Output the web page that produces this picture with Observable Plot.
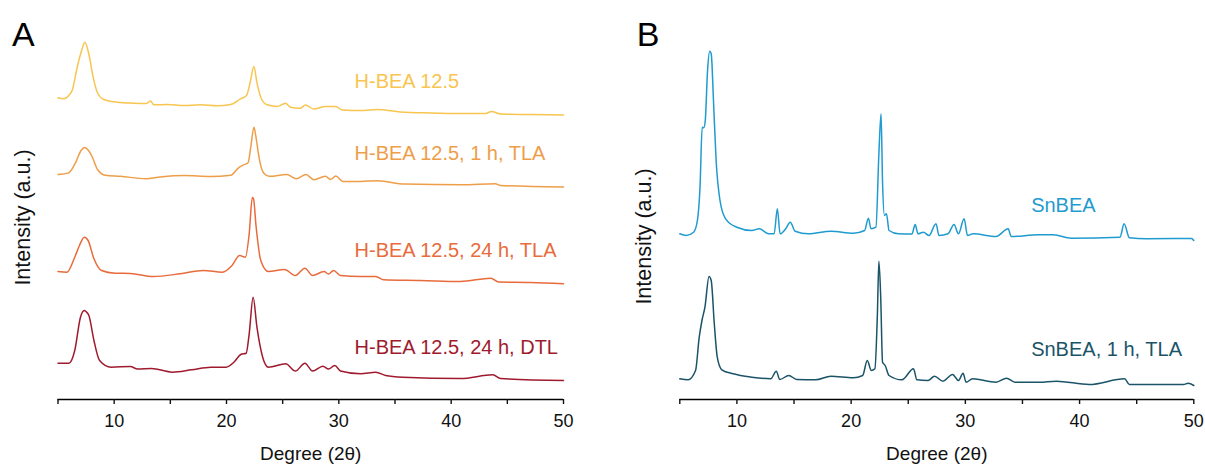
<!DOCTYPE html>
<html>
<head>
<meta charset="utf-8">
<script src="https://cdn.jsdelivr.net/npm/d3@7"></script>
<script src="https://cdn.jsdelivr.net/npm/@observablehq/plot@0.6"></script>
<style>
  html, body { margin: 0; padding: 0; background: #fff; }
  #wrap { display: flex; width: 1205px; height: 466px; }
  #wrap svg { display: block; }
</style>
</head>
<body>
<div id="wrap"><div id="panelA"></div><div id="panelB"></div></div>
<script>
// ---------- DATA (2θ in degrees, intensity in a.u. incl. stacking offset) ----------
const hbea = [[5.0,301.7],[5.52,300.7],[5.96,304],[6.26,309],[6.71,332.3],[7.15,350.7],[7.39,357.3],[7.74,345.7],[8.13,322.3],[8.49,307.3],[9.08,300],[10.27,297.3],[11.75,296.3],[12.88,296],[13.23,298.5],[13.53,294.7],[14.72,295],[16.2,294],[17.69,294.7],[19.17,293.7],[20.36,295],[21.25,300.7],[21.78,304],[22.14,319],[22.43,333],[22.73,315.7],[23.18,299],[23.62,294.7],[24.51,293],[25.25,296.3],[25.7,292.3],[26.59,291.3],[27.03,294.5],[27.75,290.5],[28.81,293],[29.7,293],[30.33,289.5],[31.93,289],[33.44,290],[35.49,287.5],[38.16,286.5],[40.83,286],[43.06,286],[43.59,288],[44.39,285.5],[47.06,285],[50,284.5]];

const hbea1hTLA = [[5.0,224.9],[5.94,226.6],[6.63,238.4],[7.0,248],[7.39,252],[7.72,249],[8.01,243.5],[8.52,230],[9.21,224.2],[10.56,223.2],[12.82,220.8],[14.12,222.5],[16.25,223.9],[18.58,223],[20.38,224.2],[21.07,231.7],[21.48,234.4],[21.92,236.7],[22.18,254],[22.44,272.2],[22.67,259],[22.85,245.2],[23.3,226.6],[23.82,223.2],[25.36,224.9],[26.22,220.8],[27.08,224.9],[27.77,219.8],[28.8,223.2],[29.26,220],[29.73,223.5],[30.35,218.1],[31.93,218],[33.44,218.8],[35.85,215.4],[41,214.7],[43.92,215.8],[44.39,214],[50,212.5]];

const hbea24hTLA = [[5.0,128],[5.8,127.3],[6.49,142.3],[6.91,154],[7.34,162.3],[7.68,159],[8.2,140.7],[8.87,129],[10.07,126.3],[11.45,126],[13.48,123],[15.88,125.7],[17.93,129],[19.64,127.3],[20.49,134],[21.17,144],[21.68,142.3],[22.02,165.7],[22.3,202],[22.4,201],[22.64,172.3],[23.05,139],[23.73,128],[25.16,130],[26.13,124],[26.98,131.3],[27.66,124],[28.68,128],[29.08,125.5],[29.53,129],[30.15,124],[31.93,123],[33.29,123],[33.98,119.7],[37.27,119],[40.81,118],[43.54,121.3],[44.22,117.5],[47.06,117],[50,115.7]];

const hbea24hDTL = [[5.0,36.3],[5.97,36.3],[6.49,49],[7.0,82.3],[7.34,89],[7.49,88],[7.75,84],[8.2,59],[8.7,39],[9.73,32.3],[11.44,33],[12.08,30.5],[13.32,31],[15.19,27.3],[16.9,29.7],[18.61,32.3],[19.97,32.3],[20.66,37.3],[21.27,45],[21.75,46.3],[22.02,65.7],[22.37,102.3],[22.71,72.3],[23.22,42.3],[23.73,32.3],[25.27,35.7],[26.14,28.5],[26.98,36.3],[27.66,28.5],[28.58,33.3],[29.08,30.5],[29.64,34],[30.15,28.5],[31.93,25.7],[33.29,27.3],[34.16,24],[35.69,22.3],[40.83,21],[43.71,24.7],[44.39,21],[50,19]];

const snbea = [[5.0,165.7],[5.55,164],[6.21,167.3],[6.54,179],[6.77,212.3],[6.96,272.3],[7.1,271.7],[7.23,279],[7.43,329],[7.62,348.3],[7.75,345.7],[7.96,295.7],[8.18,239],[8.52,199],[9.01,180.7],[9.99,172.3],[11.31,169],[11.96,170.7],[12.79,165.7],[13.26,165.7],[13.54,190.7],[13.78,165.7],[14.27,170.7],[14.67,177.3],[15.1,168.3],[16.25,165.7],[18.22,168.3],[20.19,166.3],[21.18,169],[21.51,181.3],[21.74,170.7],[22.17,172.3],[22.43,245.7],[22.62,285.7],[22.75,217.3],[22.92,184],[23.09,185.7],[23.32,169],[24.14,165.7],[25.32,165.5],[25.61,175],[25.85,165.7],[26.33,167.3],[26.82,164],[27.43,175.7],[27.69,164],[28.48,165.7],[29.01,175],[29.4,165.7],[29.89,180.7],[30.19,164],[30.68,165.7],[32.69,163],[33.75,170.7],[34.01,163],[36.38,164.7],[37.69,164.7],[39.27,161.3],[43.54,162.3],[43.9,175.7],[44.36,161.7],[45.85,160.7],[49.8,161],[50,159]];

const snbea1hTLA = [[5.0,20.7],[5.72,19.7],[6.38,29],[6.7,62.3],[6.94,79],[7.2,92.3],[7.56,123],[7.75,119],[8.02,75.7],[8.28,42.3],[8.68,29.7],[9.67,25.7],[11.31,22.3],[12.96,20.7],[13.45,28.3],[13.75,20],[14.54,24],[15.24,20],[16.9,19.7],[18.22,23.3],[20.19,21.7],[21.01,24],[21.41,39],[21.77,29],[22.08,30.7],[22.3,85.7],[22.43,138.3],[22.59,102.3],[22.75,37.3],[22.98,34],[23.32,24],[24.45,19.7],[25.46,30.7],[25.76,19.7],[26.73,19],[27.3,23.3],[28.04,18.3],[28.88,25],[29.4,19],[29.8,26.3],[30.06,17.3],[30.63,20.7],[32.69,17.3],[33.61,21.3],[34.34,17.3],[36.46,17.3],[37.96,18.3],[40.85,15],[43.94,20.7],[44.36,15],[49.1,15],[49.5,16.3],[50,14]];

const seriesNamesA = ["H-BEA 12.5", "H-BEA 12.5, 1 h, TLA", "H-BEA 12.5, 24 h, TLA", "H-BEA 12.5, 24 h, DTL"];
const seriesNamesB = ["SnBEA", "SnBEA, 1 h, TLA"];
const xTicks = [5, 10, 15, 20, 25, 30, 35, 40, 45, 50];
const xTickLabels = [10, 20, 30, 40, 50];

// label anchor points (data units: 2θ, a.u.)
const labelPosA = [[31.4, 318], [31.4, 245.5], [31.4, 149], [31.4, 52]];
const labelPosB = [[35.76, 194], [35.76, 50]];

// ---------- STYLES ----------
const colorsA = ["#F7C550", "#EE9E48", "#E86B3B", "#A01A2E"];
const colorsB = ["#1F9BD0", "#1B5468"];
const FONT = "'Liberation Sans', Arial, Helvetica, sans-serif";

function toRows(name, pts) { return pts.map(([x, y]) => ({series: name, x, y})); }

function panel({width, marginLeft, marginRight, series, colors, names, labelPos, letter, letterDx, ylabDx, ylabDy}) {
  const marks = [];
  marks.push(Plot.ruleY([0], {stroke: "#000", strokeWidth: 1.4}));
  marks.push(Plot.axisX({
    ticks: xTicks, tickSize: 5, tickPadding: 10, strokeWidth: 1.4,
    tickFormat: d => xTickLabels.includes(d) ? String(d) : "",
    label: null, fontSize: 18, fill: "#111"
  }));
  marks.push(Plot.axisX({
    ticks: [], label: "Degree (2θ)", labelAnchor: "center", labelArrow: "none", labelOffset: 60,
    fontSize: 19, fill: "#111"
  }));
  series.forEach((pts, i) => {
    marks.push(Plot.line(toRows(names[i], pts), {x: "x", y: "y", stroke: colors[i], strokeWidth: 1.5, curve: "monotone-x"}));
  });
  const labelRows = names.map((n, i) => ({text: n, x: labelPos[i][0], y: labelPos[i][1], c: colors[i]}));
  marks.push(Plot.text(labelRows, {x: "x", y: "y", text: "text", fill: d => d.c, textAnchor: "start", lineAnchor: "middle", fontSize: 20}));
  marks.push(Plot.text(["Intensity (a.u.)"], {frameAnchor: "left", textAnchor: "middle", rotate: -90, dx: ylabDx, dy: ylabDy, fontSize: 21.5, fill: "#111", lineAnchor: "middle"}));
  marks.push(Plot.text([letter], {frameAnchor: "top-left", dx: letterDx, dy: 35, fontSize: 34, fill: "#000", textAnchor: "start", lineAnchor: "middle"}));
  return Plot.plot({
    width, height: 466,
    marginLeft, marginRight, marginTop: 0, marginBottom: 67,
    x: {domain: [5, 50]},
    y: {domain: [0, 399], axis: null},
    style: {fontFamily: FONT, fontSize: "16px", background: "#fff", color: "#111", overflow: "visible"},
    marks
  });
}

document.getElementById("panelA").append(panel({
  width: 600, marginLeft: 57.5, marginRight: 37,
  series: [hbea, hbea1hTLA, hbea24hTLA, hbea24hDTL], colors: colorsA, names: seriesNamesA,
  labelPos: labelPosA, letter: "A", letterDx: -46, ylabDx: -34.5, ylabDy: 17.5
}));
document.getElementById("panelB").append(panel({
  width: 605, marginLeft: 79.3, marginRight: 11.7,
  series: [snbea, snbea1hTLA], colors: colorsB, names: seriesNamesB,
  labelPos: labelPosB, letter: "B", letterDx: -43, ylabDx: -35.8, ylabDy: 36.5
}));
</script>
</body>
</html>
